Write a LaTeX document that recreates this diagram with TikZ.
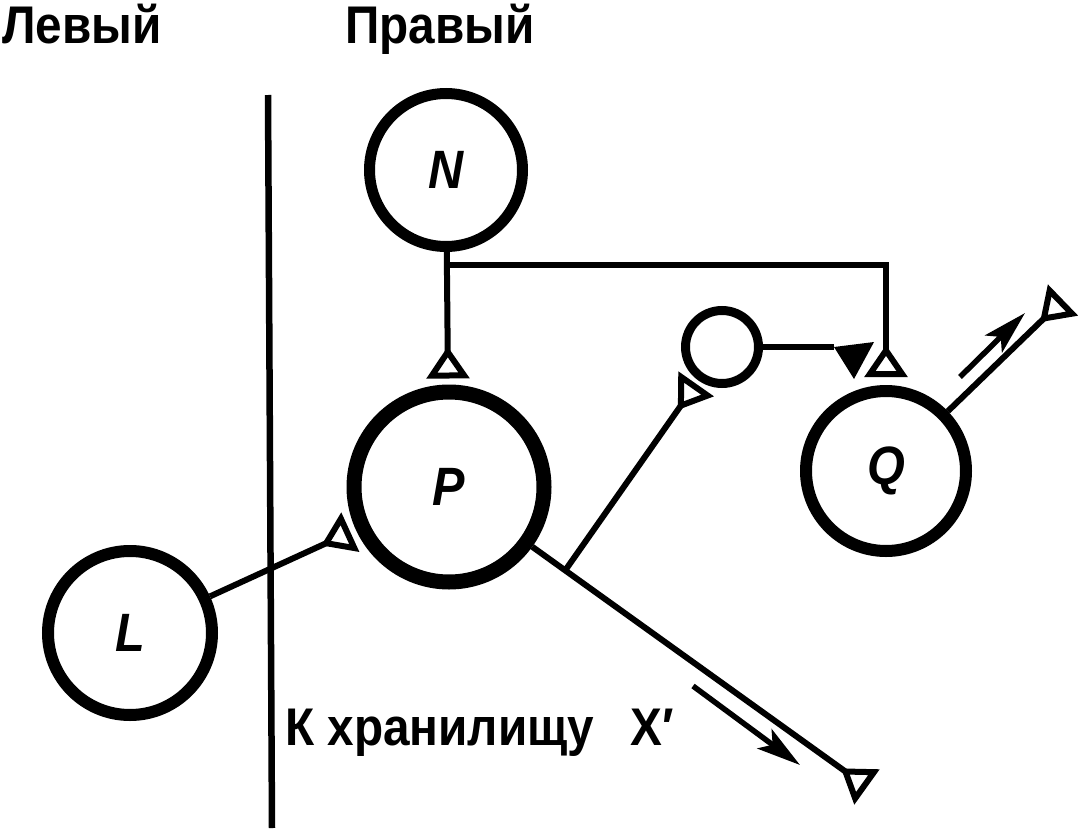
\documentclass[tikz,border=0pt]{standalone}
\usepackage{fontspec}
\setmainfont{Liberation Sans}[FakeStretch=0.9]
\usetikzlibrary{arrows.meta,calc}
\begin{document}
\begin{tikzpicture}[x=1pt,y=-1pt,
  ring/.style={circle, draw, inner sep=0pt},
  conn/.style={line width=6pt},
  tri/.style={-{Triangle[open,reversed,length=32pt,width=42pt,line width=6pt]}},
  flow/.style={line width=5.5pt,-{Stealth[length=44pt,width=24pt,inset=10pt]}},
  lbl/.style={font=\fontsize{53}{60}\selectfont\bfseries, inner sep=0pt, anchor=base west},
  cname/.style={font=\fontsize{54}{60}\selectfont\bfseries\itshape}]
\useasboundingbox (0,0) rectangle (1080,830);
% nodes
\node[ring, line width=11pt, minimum size=153pt, cname] (N) at (446,170) {N};
\node[ring, line width=15pt, minimum size=190pt, cname] (P) at (449,487) {P};
\node[ring, line width=12pt, minimum size=160pt, cname] (Q) at (886,471) {Q};
\node[ring, line width=12pt, minimum size=164pt, cname] (L) at (130,633) {L};
\node[ring, line width=9pt, minimum size=73pt] (S) at (722,347) {};
% dividing line
\coordinate (v1) at (268,95);
\coordinate (v2) at (272,828);
\draw[line width=6.5pt] (v1) -- (v2);
% connectors
\coordinate (j) at (446,265);
\draw[conn, tri, shorten >=6pt] (N) -- (P);
\draw[conn, tri, shorten >=8pt] (j) -| (Q.north);
\draw[conn, tri, shorten >=6pt] (L) -- (P);
\coordinate (X1) at (867,787);
\draw[conn, tri] (P) -- (X1);
\coordinate (J2) at ($(P)!0.278!(X1)$);
\draw[conn, tri, shorten >=4pt] (J2) -- (S);
\coordinate (ft1) at (834,347);
\coordinate (ft2) at (874,342);
\coordinate (ft3) at (854,379);
\draw[conn] (S) -- (ft1);
\fill (ft1) -- (ft2) -- (ft3) -- cycle;
\coordinate (Q1) at (1063,300);
\draw[conn, tri] (Q) -- (Q1);
% flow arrows
\coordinate (fa1) at (693,686);
\coordinate (fa2) at (800,765);
\draw[flow] (fa1) -- (fa2);
\coordinate (fb1) at (960,377);
\coordinate (fb2) at (1025,313);
\draw[flow] (fb1) -- (fb2);
% labels
\node[lbl] (tl) at (2,43) {Левый};
\node[lbl] (tr) at (345,43) {Правый};
\node[lbl] (tx) at (285,745) {К хранилищу\hspace{36pt}X′};
\end{tikzpicture}
\end{document}
